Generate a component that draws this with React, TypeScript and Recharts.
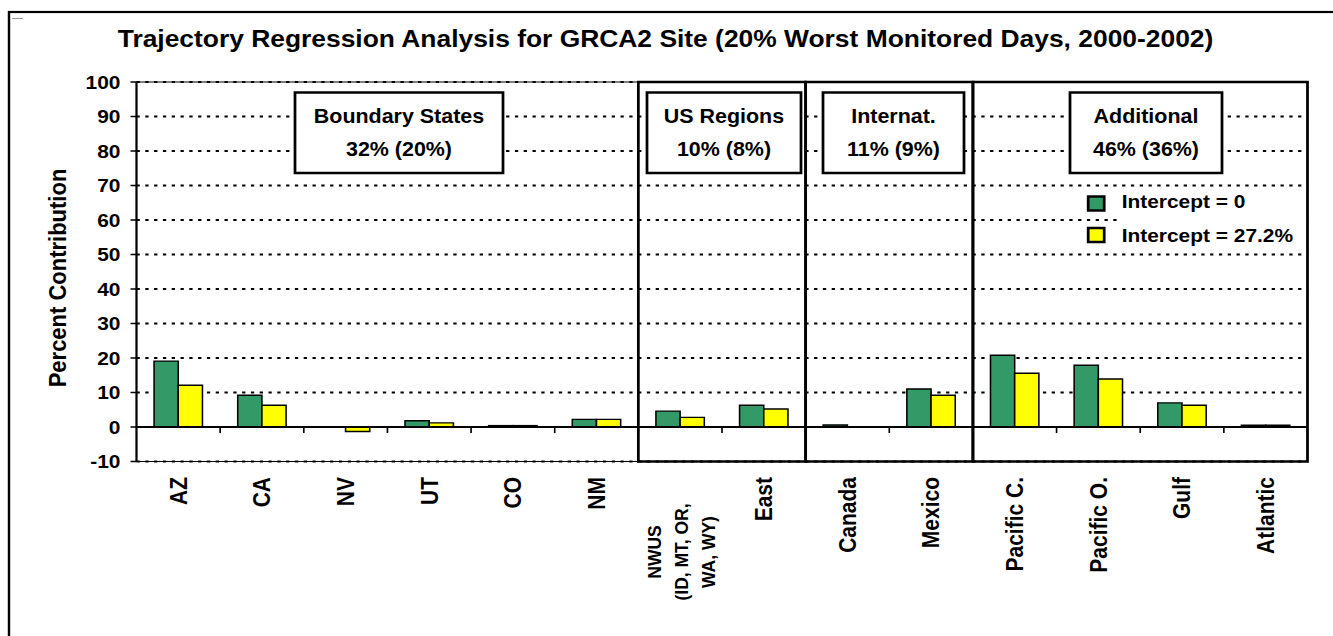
import React from 'react';
import { BarChart, Bar, XAxis, YAxis, CartesianGrid, ReferenceArea, ReferenceLine, Legend } from 'recharts';

// ---------- data ----------
const categories = ['AZ', 'CA', 'NV', 'UT', 'CO', 'NM', 'NWUS', 'East', 'Canada', 'Mexico', 'Pacific C.', 'Pacific O.', 'Gulf', 'Atlantic'];
const categoryLabelLines: string[][] = [
  ['AZ'], ['CA'], ['NV'], ['UT'], ['CO'], ['NM'],
  ['NWUS', '(ID, MT, OR,', 'WA, WY)'], ['East'],
  ['Canada'], ['Mexico'],
  ['Pacific C.'], ['Pacific O.'], ['Gulf'], ['Atlantic'],
];
const intercept0 = [19.1, 9.2, 0, 1.8, 0.4, 2.2, 4.6, 6.3, 0.6, 11.0, 20.8, 17.9, 7.0, 0.5];
const intercept272 = [12.1, 6.3, -1.3, 1.2, 0.4, 2.2, 2.8, 5.2, 0, 9.2, 15.6, 13.9, 6.3, 0.5];
const seriesNames = ['Intercept = 0', 'Intercept = 27.2%'];
const yTicks = [-10, 0, 10, 20, 30, 40, 50, 60, 70, 80, 90, 100];
const groupNames = ['Boundary States', 'US Regions', 'Internat.', 'Additional'];
const groupShares = ['32% (20%)', '10% (8%)', '11% (9%)', '46% (36%)'];
const groupFirst = ['AZ', 'NWUS', 'Canada', 'Pacific C.'];
const groupLast = ['NM', 'East', 'Mexico', 'Atlantic'];
const titleText = 'Trajectory Regression Analysis for GRCA2 Site (20% Worst Monitored Days, 2000-2002)';
const yAxisTitle = 'Percent Contribution';

const data = categories.map((c, i) => ({ name: c, v0: intercept0[i], v1: intercept272[i] }));

// ---------- layout (page pixels, converted to design space) ----------
const S = 1.1; // horizontal stretch of the reference
const PW = 1333;
const H = 636;
const W = PW / S;
const px = (x: number) => x / S;
const FONT = '"Liberation Sans", Arial, Helvetica, sans-serif';
const GREEN = '#339966';
const YELLOW = '#FFFF00';

const plotLeft = px(136.5);
const plotRight = px(1307.5);
const plotTop = 82;
const plotBottom = 461.5;

const boxX = [[295, 503], [647, 801], [823, 964], [1070, 1222]];
const boxTop = 92.5;
const boxBottom = 173;

const XTick = (props: any) => {
  const { x, payload } = props;
  const idx = categories.indexOf(payload.value);
  const lines = idx >= 0 ? categoryLabelLines[idx] : [String(payload.value)];
  const common = { fontFamily: FONT, fontWeight: 700, fill: '#000' } as const;
  if (lines.length === 1) {
    return (
      <text transform={`translate(${x},477) rotate(-90)`} textAnchor="end" dy="0.36em" fontSize={21} {...common}>
        {lines[0]}
      </text>
    );
  }
  const lh = px(27);
  return (
    <text transform={`translate(${x + px(1)},552) rotate(-90)`} textAnchor="middle" fontSize={17.5} {...common}>
      {lines.map((l, i) => (
        <tspan key={i} x={0} y={(i - (lines.length - 1) / 2) * lh} dy="0.36em">{l}</tspan>
      ))}
    </text>
  );
};

const TickMark = (props: any) => {
  const { x, y, height } = props;
  if (x == null) return null;
  return <line x1={x} x2={x} y1={y} y2={y + height} stroke="#000" strokeWidth={1.5} />;
};

const LegendContent = () => {
  const left = px(1080);
  const w = px(1306) - left;
  return (
    <svg width={w} height={62} style={{ display: 'block', overflow: 'visible' }}>
      <rect x={px(1118) - left} y={2} width={px(1305) - px(1118)} height={58} fill="#fff" />
      {[GREEN, YELLOW].map((c, i) => (
        <g key={i}>
          <rect x={px(1088) - left} y={i === 0 ? 10.5 : 42} width={px(1104) - px(1088)} height={14} fill={c} stroke="#000" strokeWidth={2.5} />
          <text x={px(1121.5) - left} y={i === 0 ? 22.5 : 56} fontFamily={FONT} fontWeight={700} fontSize={19} fill="#000">
            {seriesNames[i]}
          </text>
        </g>
      ))}
    </svg>
  );
};

export default function App() {
  return (
    <div style={{ position: 'absolute', left: 0, top: 0, width: W, height: H, transform: `scaleX(${S})`, transformOrigin: '0 0', background: '#fff' }}>
      <BarChart
        width={W}
        height={H}
        data={data}
        margin={{ top: plotTop, right: W - plotRight, bottom: 0, left: 0 }}
        barCategoryGap="21%"
        barGap={0}
      >
        <CartesianGrid horizontal vertical={false} stroke="#000" strokeWidth={2} strokeDasharray="3 5" />
        <ReferenceArea x1="AZ" x2="Atlantic" y1={-10} y2={100} ifOverflow="visible" fill="none" stroke="#000" strokeWidth={1} />
        <XAxis
          dataKey="name"
          height={H - plotBottom}
          axisLine={false}
          tickLine={false}
          interval={0}
          tick={<XTick />}
        />
        <YAxis
          width={plotLeft}
          domain={[-10, 100]}
          ticks={yTicks}
          interval={0}
          axisLine={{ stroke: '#000', strokeWidth: 2 }}
          tickLine={{ stroke: '#000', strokeWidth: 1.5 }}
          tickSize={px(6)}
          tickMargin={px(10)}
          tick={{ fill: '#000', fontSize: 19, fontWeight: 700, fontFamily: FONT }}
        />
        {categories.slice(1).map((c) => (
          <ReferenceArea key={c} x1={c} x2={c} y1={-1.75} y2={0} ifOverflow="visible" shape={<TickMark />} />
        ))}
        <ReferenceLine y={0} stroke="#000" strokeWidth={2} />
        {groupFirst.slice(1).map((f, i) => (
          <ReferenceArea key={f} x1={f} x2={groupLast[i + 1]} y1={-10} y2={100} ifOverflow="visible" fill="none" fillOpacity={0} stroke="#000" strokeWidth={2.5} />
        ))}
        <Bar dataKey="v0" name={seriesNames[0]} fill={GREEN} stroke="#000" strokeWidth={1.4} isAnimationActive={false} />
        <Bar dataKey="v1" name={seriesNames[1]} fill={YELLOW} stroke="#000" strokeWidth={1.4} isAnimationActive={false} />
        <Legend
          layout="vertical"
          align="center"
          verticalAlign="middle"
          wrapperStyle={{ position: 'absolute', left: px(1080), top: 186, width: px(1306) - px(1080), height: 62 }}
          content={<LegendContent />}
        />
      </BarChart>
      <svg width={W} height={H} style={{ position: 'absolute', left: 0, top: 0, pointerEvents: 'none' }}>
        <rect x={px(9)} y={12} width={W + 50} height={H + 50} fill="none" stroke="#000" strokeWidth={2.2} />
        <line x1={px(12)} x2={px(23)} y1={18.5} y2={18.5} stroke="#999" strokeWidth={1} />
        <text x={px(665.5)} y={47} textAnchor="middle" fontFamily={FONT} fontWeight={700} fontSize={24} fill="#000">
          {titleText}
        </text>
        <text transform={`translate(${px(57.5)},278) rotate(-90)`} textAnchor="middle" dy="0.36em" fontFamily={FONT} fontWeight={700} fontSize={22} fill="#000">
          {yAxisTitle}
        </text>
        {groupNames.map((g, i) => {
          const x1 = px(boxX[i][0]);
          const x2 = px(boxX[i][1]);
          return (
            <g key={g}>
              <rect x={x1} y={boxTop} width={x2 - x1} height={boxBottom - boxTop} fill="#fff" stroke="#000" strokeWidth={2.5} />
              <text x={(x1 + x2) / 2} y={123} textAnchor="middle" fontFamily={FONT} fontWeight={700} fontSize={19.5} fill="#000">{g}</text>
              <text x={(x1 + x2) / 2} y={156.5} textAnchor="middle" fontFamily={FONT} fontWeight={700} fontSize={19.5} fill="#000">{groupShares[i]}</text>
            </g>
          );
        })}
      </svg>
    </div>
  );
}
